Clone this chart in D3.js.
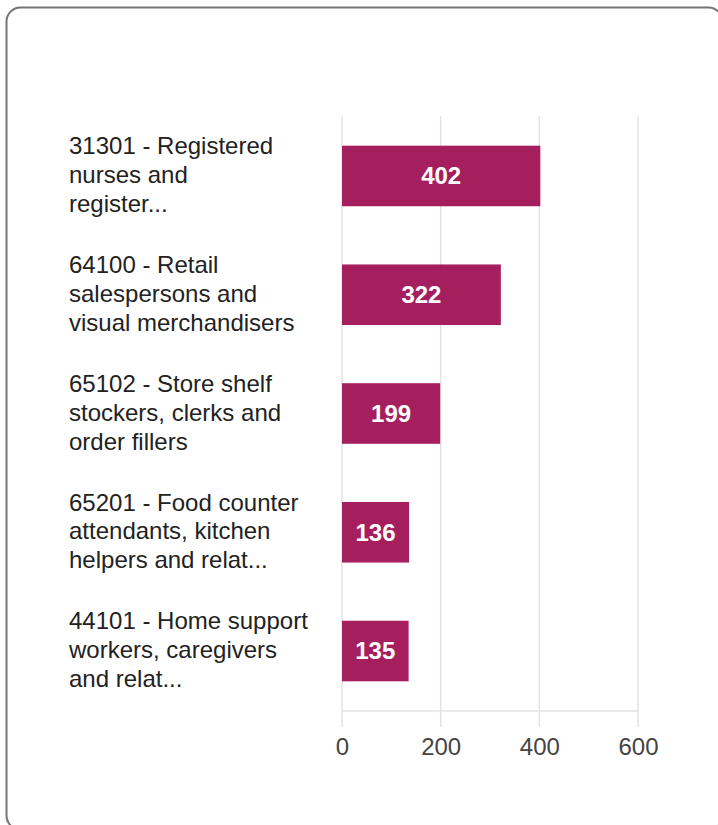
<!DOCTYPE html>
<html>
<head>
<meta charset="utf-8">
<script src="https://cdn.jsdelivr.net/npm/d3@7"></script>
<style>
  body { margin: 0; background: #fff; }
  svg { display: block; font-family: Arial, "Liberation Sans", sans-serif; }
</style>
</head>
<body>
<svg width="718" height="825"></svg>
<script>
// occupations (label lines) and counts
var labels = [
    ["31301 - Registered", "nurses and", "register..."],
    ["64100 - Retail", "salespersons and", "visual merchandisers"],
    ["65102 - Store shelf", "stockers, clerks and", "order fillers"],
    ["65201 - Food counter", "attendants, kitchen", "helpers and relat..."],
    ["44101 - Home support", "workers, caregivers", "and relat..."]
];
var codes = ["31301", "64100", "65102", "65201", "44101"];
var counts = [402, 322, 199, 136, 135];
var ticks = [0, 200, 400, 600];

var svg = d3.select("svg");

// card outline
svg.append("rect")
    .attr("x", 6.5).attr("y", 7.5)
    .attr("width", 716).attr("height", 822)
    .attr("rx", 14)
    .attr("fill", "#fff")
    .attr("stroke", "#757575")
    .attr("stroke-width", 2);

var x = d3.scaleLinear().domain([0, 600]).range([342, 638]);
var y = d3.scaleBand().domain(codes).range([116, 711]).paddingInner(0.49).paddingOuter(0.25);

// gridlines
svg.append("g").selectAll("line")
    .data(ticks)
    .enter().append("line")
    .attr("x1", function(d) { return x(d); })
    .attr("x2", function(d) { return x(d); })
    .attr("y1", 116).attr("y2", 727)
    .attr("stroke", "#e3e3e3")
    .attr("stroke-width", 1.5);

svg.append("line")
    .attr("x1", x(0)).attr("x2", x(600))
    .attr("y1", 711).attr("y2", 711)
    .attr("stroke", "#e3e3e3")
    .attr("stroke-width", 1.5);

// x axis labels
var xAxis = d3.axisBottom(x).tickValues(ticks).tickSize(0).tickPadding(0);
var ax = svg.append("g").attr("transform", "translate(0,738)").call(xAxis);
ax.select(".domain").remove();
ax.selectAll("text")
    .attr("font-size", 24)
    .attr("font-family", "Arial, 'Liberation Sans', sans-serif")
    .attr("fill", "#444");

// bars
svg.append("g").selectAll("rect")
    .data(counts)
    .enter().append("rect")
    .attr("x", x(0))
    .attr("y", function(d, i) { return y(codes[i]); })
    .attr("width", function(d) { return x(d) - x(0); })
    .attr("height", y.bandwidth())
    .attr("fill", "#a51f5f");

// value labels
svg.append("g").selectAll("text")
    .data(counts)
    .enter().append("text")
    .attr("x", function(d) { return (x(d) + x(0)) / 2; })
    .attr("y", function(d, i) { return y(codes[i]) + y.bandwidth() / 2; })
    .attr("dy", "0.35em")
    .attr("text-anchor", "middle")
    .attr("font-size", 24)
    .attr("font-weight", "bold")
    .attr("fill", "#fff")
    .text(function(d) { return d; });

// category labels
var cat = svg.append("g").selectAll("text")
    .data(labels)
    .enter().append("text")
    .attr("x", 69)
    .attr("y", function(d, i) { return y(codes[i]) + y.bandwidth() / 2; })
    .attr("font-size", 24)
    .attr("fill", "#222");

cat.selectAll("tspan")
    .data(function(d) { return d; })
    .enter().append("tspan")
    .attr("x", 69)
    .attr("dy", function(d, j) { return j == 0 ? "-0.9em" : "1.2em"; })
    .text(function(d) { return d; });
</script>
</body>
</html>
